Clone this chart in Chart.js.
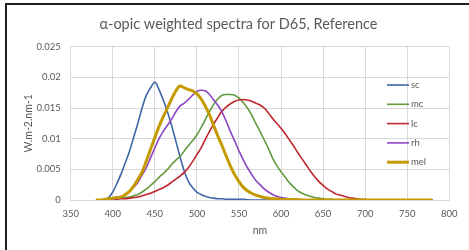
<!DOCTYPE html>
<html><head><meta charset="utf-8">
<script src="https://cdn.jsdelivr.net/npm/chart.js@4.4.0/dist/chart.umd.min.js"></script>
<style>
html,body{margin:0;padding:0;background:#fff;}
#wrap{position:relative;width:469px;height:250px;overflow:hidden;background:#fff;}
#frame{position:absolute;left:5px;top:3px;width:480px;height:270px;border-left:2px solid #1e1e1e;border-top:2px solid #1e1e1e;pointer-events:none;}
canvas{position:absolute;left:0;top:0;}
</style></head><body>
<div id="wrap"><canvas id="c" width="469" height="250"></canvas><div id="frame"></div></div>
<script>
// wavelengths (nm)
const wavelengths = [380,385,390,395,400,405,410,415,420,425,430,435,440,445,450,455,460,465,470,475,
480,485,490,495,500,505,510,515,520,525,530,535,540,545,550,555,560,565,570,575,
580,585,590,595,600,605,610,615,620,625,630,635,640,645,650,655,660,665,670,675,
680,685,690,695,700,705,710,715,720,725,730,735,740,745,750,755,760,765,770,775,780];

const seriesNames = ['sc','mc','lc','rh','mel'];

const sc = [0,0,0.0001,0.0004, 0.0013,0.0027,0.0043,0.0061, 0.0080,0.0103,0.0126,0.0151,
0.0171,0.0183,0.0192,0.0180, 0.0163,0.0144,0.0121,0.0096, 0.0070,0.0047,0.0030,0.0020,
0.0013,0.0009,0.0006,0.0004, 0.0003,0.0002,0.0002,0.0001, 0.0001,0.0001,0.0001,0.0001,
0.00005,0,0,0,
0,0,0,0,0,0,0,0,0,0, 0,0,0,0,0,0,0,0,0,0, 0,0,0,0,0,0,0,0,0,0, 0,0,0,0,0,0,0,0,0,0, 0];

const mc = [0,0,0.00005,0.0001, 0.0001,0.0002,0.0003,0.0004, 0.0005,0.0007,0.0009,0.0013,
0.0018,0.0024,0.0030,0.0037, 0.0043,0.0050,0.0058,0.0065, 0.0071,0.0080,0.0089,0.0097,
0.0106,0.0118,0.0131,0.0144, 0.0156,0.0165,0.0171,0.0172, 0.0172,0.0171,0.0166,0.0159,
0.0150,0.0139,0.0125,0.0112, 0.0098,0.0084,0.0068,0.0056, 0.0046,0.0037,0.0028,0.0021,
0.0015,0.0011,0.0008,0.0006, 0.0004,0.0003,0.0002,0.0001, 0.0001,0,0,0,
0,0,0,0,0,0,0,0,0,0, 0,0,0,0,0,0,0,0,0,0, 0];

const lc = [0,0,0,0.00005, 0.0001,0.00015,0.0002,0.0002, 0.0003,0.0004,0.0005,0.0007,
0.0009,0.0011,0.0014,0.0017, 0.0020,0.0024,0.0029,0.0034, 0.0039,0.0045,0.0053,0.0063,
0.0074,0.0085,0.0099,0.0112, 0.0124,0.0135,0.0145,0.0152, 0.0157,0.0161,0.0163,0.0164,
0.0163,0.0161,0.0158,0.0155, 0.0150,0.0142,0.0133,0.0125, 0.0117,0.0108,0.0098,0.0088,
0.0077,0.0067,0.0057,0.0047, 0.0038,0.0030,0.0024,0.0018, 0.0014,0.0010,0.0008,0.0006,
0.0004,0.0003,0.0002,0.0001, 0.0001,0,0,0,
0,0,0,0,0,0,0,0,0,0, 0,0,0];

const rh = [0,0,0.00003,0.00006, 0.00013,0.0003,0.0005,0.0009, 0.0014,0.0021,0.0029,0.0041,
0.0053,0.0069,0.0085,0.0100, 0.0112,0.0122,0.0132,0.0144, 0.0153,0.0158,0.0164,0.0171,
0.0177,0.0179,0.0178,0.0172, 0.0163,0.0154,0.0143,0.0128, 0.0111,0.0096,0.0080,0.0066,
0.0053,0.0042,0.0032,0.0025, 0.0018,0.0013,0.0009,0.0006, 0.0004,0.0003,0.0002,0.0001,
0.0001,0.00005,0,0,
0,0,0,0,0,0,0,0,0,0, 0,0,0,0,0,0,0,0,0,0, 0,0,0,0,0,0,0,0,0];

const mel = [0,0,0.0001,0.0002, 0.0003,0.0004,0.0005,0.0009, 0.0014,0.0023,0.0034,0.0046,
0.0064,0.0083,0.0102,0.0120, 0.0136,0.0150,0.0165,0.0178, 0.0186,0.0183,0.0180,0.0178,
0.0173,0.0165,0.0153,0.0139, 0.0121,0.0104,0.0088,0.0071, 0.0055,0.0041,0.0030,0.0021,
0.0015,0.0011,0.0008,0.0006, 0.0004,0.0003,0.0002,0.0002, 0.0001,0.0001,0.0001,0.0001,
0.00005,0,0,0,
0,0,0,0,0,0,0,0,0,0, 0,0,0,0,0,0,0,0,0,0, 0,0,0,0,0,0,0,0,0];

const xTickValues = [350,400,450,500,550,600,650,700,750,800];
const xTickLabels = ['350','400','450','500','550','600','650','700','750','800'];
const yTickValues = [0,0.005,0.01,0.015,0.02,0.025];
const yTickLabels = ['0','0.005','0.01','0.015','0.02','0.025'];

const titleText = 'α-opic weighted spectra for D65, Reference';
const yTitle = 'W.m-2.nm-1';
const xTitle = 'nm';

const colors = ['#3D66A8','#639A3F','#C0262D','#8E45C4','#C49A00'];
const widths = [1.6,1.6,1.6,1.6,3];
const values = [sc,mc,lc,rh,mel];
const drawOrder = [5,4,3,2,1];

const FONT = 'Lato, "Liberation Sans", Arial, sans-serif';
const GREY = '#595959';
const GRID = '#D9D9D9';

const datasets = seriesNames.map((name,k)=>({
  label: name,
  data: wavelengths.map((w,i)=>({x:w, y:values[k][i]})),
  borderColor: colors[k],
  backgroundColor: colors[k],
  borderWidth: widths[k],
  pointRadius: 0,
  fill: false,
  tension: 0.3,
  cubicInterpolationMode: 'monotone',
  order: drawOrder[k]
}));

const insideLegend = {
  id: 'insideLegend',
  afterDatasetsDraw(chart){
    const ctx = chart.ctx;
    const ds = chart.data.datasets;
    const lx0 = 387, lx1 = 409, tx = 411, y0 = 85, dy = 19.3;
    ctx.save();
    ctx.font = '9.5px ' + FONT;
    ctx.textBaseline = 'middle';
    ctx.textAlign = 'left';
    ds.forEach((d,i)=>{
      const y = y0 + i*dy;
      ctx.strokeStyle = d.borderColor;
      ctx.lineWidth = d.borderWidth;
      ctx.beginPath(); ctx.moveTo(lx0,y); ctx.lineTo(lx1,y); ctx.stroke();
      ctx.fillStyle = GREY;
      ctx.fillText(d.label, tx, y);
    });
    ctx.restore();
  }
};

new Chart(document.getElementById('c'), {
  type: 'line',
  data: { datasets },
  options: {
    responsive: false,
    animation: false,
    devicePixelRatio: 1,
    layout: { padding: { left: 8, right: 0, top: 0, bottom: 0 } },
    plugins: {
      legend: { display: false },
      tooltip: { enabled: false },
      title: {
        display: true, text: titleText, color: GREY,
        font: { family: FONT, size: 14.5, weight: 'normal' },
        padding: { top: 15.3, bottom: 14 }
      }
    },
    scales: {
      x: {
        type: 'linear', position: 'bottom', min: 350, max: 800,
        afterBuildTicks: s => { s.ticks = xTickValues.map(v=>({value:v})); },
        afterFit: s => { s.height = 50; },
        ticks: { color: GREY, font: { family: FONT, size: 9.5 }, padding: 8,
                 maxRotation: 0, autoSkip: false,
                 callback: v => xTickLabels[xTickValues.indexOf(v)] },
        grid: { color: GRID, lineWidth: 1, drawTicks: false },
        border: { color: GRID, width: 1 },
        title: { display: true, text: xTitle, color: GREY,
                 font: { family: FONT, size: 10.5 }, padding: { top: 0, bottom: 13 } }
      },
      y: {
        type: 'linear', position: 'left', min: 0, max: 0.025,
        afterBuildTicks: s => { s.ticks = yTickValues.map(v=>({value:v})); },
        afterFit: s => { s.width = 62.7; },
        ticks: { color: GREY, font: { family: FONT, size: 9.5 }, padding: 10,
                 callback: v => yTickLabels[yTickValues.indexOf(v)] },
        grid: { color: GRID, lineWidth: 1, drawTicks: false },
        border: { color: GRID, width: 1 },
        title: { display: true, text: yTitle, color: GREY,
                 font: { family: FONT, size: 10.5 }, padding: { top: 14.7, bottom: 0 } }
      },
      yRight: {
        type: 'linear', position: 'right', display: true,
        grid: { display: false, drawTicks: false }, ticks: { display: false },
        border: { display: false },
        afterFit: s => { s.width = 19.7; }
      }
    }
  },
  plugins: [insideLegend]
});
</script>
</body></html>
